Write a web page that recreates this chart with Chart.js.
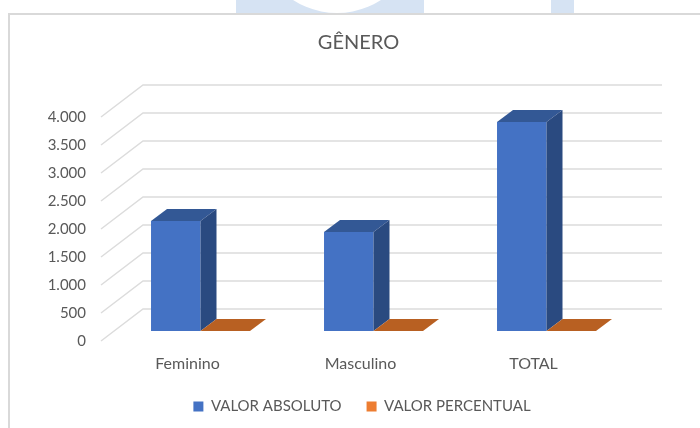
<!DOCTYPE html>
<html lang="pt-BR">
<head>
<meta charset="utf-8">
<title>Gênero</title>
<script src="https://cdn.jsdelivr.net/npm/chart.js@4/dist/chart.umd.min.js"></script>
<style>
  html, body { margin: 0; padding: 0; background: #fff; }
  #page { position: relative; width: 700px; height: 428px; overflow: hidden; }
  /* watermark of the document showing above the chart frame */
  #mark { position: absolute; left: 0; top: 0; width: 700px; height: 13px; overflow: hidden; }
  #mark .a { position: absolute; left: 236px; top: 0; width: 188px; height: 13px; background: #d6e3f3; }
  #mark .b { position: absolute; left: 551px; top: 0; width: 23px; height: 13px; background: #d6e3f3; }
  #mark .c { position: absolute; left: 256px; top: -149px; width: 162px; height: 162px; border-radius: 50%; background: #fff; }
  #frame { position: absolute; left: 8px; top: 13px; width: 700px; height: 430px; border: 2px solid #d9d9d9; box-sizing: border-box; }
  #chart { position: absolute; left: 0; top: 0; }
</style>
</head>
<body>
<div id="page">
  <div id="mark"><div class="a"></div><div class="b"></div><div class="c"></div></div>
  <div id="frame"></div>
  <canvas id="chart" width="700" height="428"></canvas>
</div>
<script>
const CATEGORIES = ["Feminino", "Masculino", "TOTAL"];
const VALOR_ABSOLUTO = [1964, 1768, 3732];
const VALOR_PERCENTUAL = [0.526, 0.474, 1];
const Y_TICKS = [0, 500, 1000, 1500, 2000, 2500, 3000, 3500, 4000];

const TEXT = "#595959";
const FONT = "Lato, 'Open Sans', sans-serif";

// fake 3D: wall sits behind the floor front edge, bars stand partway in
const WALL_DX = 42, WALL_DY = 32;
const BAR_SHIFT_X = 13, BAR_SHIFT_Y = 10;
const SIDE_DX = 16, SIDE_DY = 12;
const SHADES = [
  { top: "#335895", side: "#2a4a80" },
  { top: "#b86022", side: "#b86022" },
];

const wall3d = {
  id: "wall3d",
  // title and legend are centred on the frame in the original, not on the plot
  afterLayout(chart) {
    chart.titleBlock.left += 40;
    chart.titleBlock.right += 40;
    chart.legend.left += 43.5;
    chart.legend.right += 43.5;
  },
  beforeDatasetsDraw(chart) {
    const { ctx, chartArea: a, scales: { y } } = chart;
    ctx.save();
    ctx.strokeStyle = "#dcdcdc";
    ctx.lineWidth = 1.5;
    y.ticks.forEach(t => {
      const py = y.getPixelForValue(t.value);
      ctx.beginPath();
      ctx.moveTo(a.left, py);
      ctx.lineTo(a.left + WALL_DX, py - WALL_DY);
      ctx.lineTo(a.right + WALL_DX, py - WALL_DY);
      ctx.stroke();
    });
    ctx.restore();
    ctx.save();
    ctx.translate(BAR_SHIFT_X, -BAR_SHIFT_Y);
  },
  afterDatasetsDraw(chart) {
    const { ctx } = chart;
    chart.data.datasets.forEach((ds, i) => {
      chart.getDatasetMeta(i).data.forEach(bar => {
        const l = bar.x - bar.width / 2, r = bar.x + bar.width / 2;
        ctx.fillStyle = SHADES[i].top;
        ctx.beginPath();
        ctx.moveTo(l, bar.y);
        ctx.lineTo(l + SIDE_DX, bar.y - SIDE_DY);
        ctx.lineTo(r + SIDE_DX, bar.y - SIDE_DY);
        ctx.lineTo(r, bar.y);
        ctx.fill();
        ctx.fillStyle = SHADES[i].side;
        ctx.beginPath();
        ctx.moveTo(r, bar.y);
        ctx.lineTo(r + SIDE_DX, bar.y - SIDE_DY);
        ctx.lineTo(r + SIDE_DX, bar.base - SIDE_DY);
        ctx.lineTo(r, bar.base);
        ctx.fill();
      });
    });
    ctx.restore();
  },
};

new Chart(document.getElementById("chart"), {
  type: "bar",
  data: {
    labels: CATEGORIES,
    datasets: [
      { label: "VALOR ABSOLUTO", data: VALOR_ABSOLUTO, backgroundColor: "#4472c4" },
      { label: "VALOR PERCENTUAL", data: VALOR_PERCENTUAL, backgroundColor: "#ed7d31" },
    ],
  },
  plugins: [wall3d],
  options: {
    responsive: false,
    animation: false,
    devicePixelRatio: 1,
    layout: { padding: { left: 17, right: 80, top: 0, bottom: 4 } },
    datasets: { bar: { barPercentage: 1, categoryPercentage: 0.572 } },
    plugins: {
      title: {
        display: true,
        text: "GÊNERO",
        color: TEXT,
        font: { family: FONT, size: 20, weight: "normal" },
        padding: { top: 31, bottom: 62 },
      },
      legend: {
        position: "bottom",
        labels: {
          color: TEXT,
          font: { family: FONT, size: 15 },
          boxWidth: 10,
          boxHeight: 10,
          padding: 25,
        },
      },
      tooltip: { enabled: false },
    },
    scales: {
      x: {
        grid: { display: false },
        border: { display: false },
        ticks: { color: TEXT, font: { family: FONT, size: 16 }, padding: 5 },
        afterFit(s) { s.height = 33; },
      },
      y: {
        min: 0,
        max: 4000,
        afterBuildTicks(s) { s.ticks = Y_TICKS.map(value => ({ value })); },
        grid: { display: false, drawTicks: false },
        border: { display: false },
        ticks: {
          color: TEXT,
          font: { family: FONT, size: 15 },
          padding: 15,
          callback: v => v.toLocaleString("pt-BR"),
        },
        afterFit(s) { s.width = 84; },
      },
    },
  },
});
</script>
</body>
</html>
